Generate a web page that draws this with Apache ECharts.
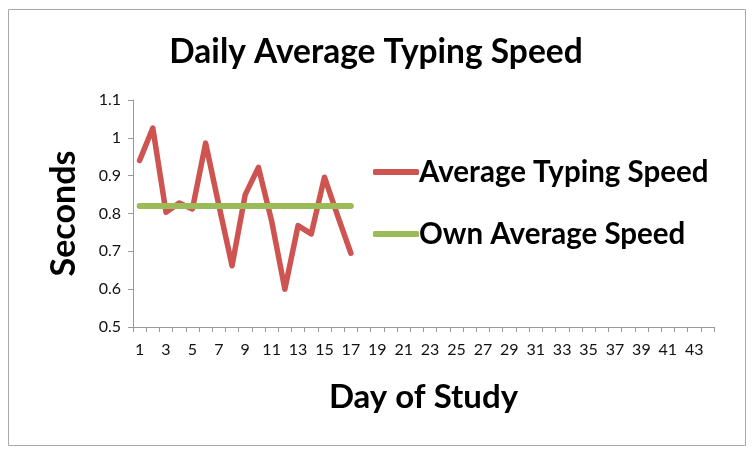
<!DOCTYPE html>
<html>
<head>
<meta charset="utf-8">
<script src="https://cdn.jsdelivr.net/npm/echarts@6/dist/echarts.min.js"></script>
<style>html,body{margin:0;padding:0;background:#fff;}#c{width:752px;height:452px;}</style>
</head>
<body>
<div id="c"></div>
<script>
const days = Array.from({length: 44}, (_, i) => String(i + 1));
const averageTypingSpeed = [0.94, 1.026, 0.803, 0.828, 0.812, 0.986, 0.822, 0.662, 0.85, 0.922, 0.78, 0.60, 0.768, 0.746, 0.896, 0.794, 0.695];
const ownAverageSpeed = [0.82, 0.82, 0.82, 0.82, 0.82, 0.82, 0.82, 0.82, 0.82, 0.82, 0.82, 0.82, 0.82, 0.82, 0.82, 0.82, 0.82];
const seriesNames = ['Average Typing Speed', 'Own Average Speed'];

const FONT = 'Lato';
const chart = echarts.init(document.getElementById('c'));
chart.setOption({
  animation: false,
  backgroundColor: '#fff',
  title: {
    text: 'Daily Average Typing Speed',
    left: 'center', top: 30,
    textStyle: { fontFamily: FONT, fontWeight: 'bold', fontSize: 33.5, color: '#000' }
  },
  graphic: [{
    type: 'rect', shape: { x: 8.5, y: 9.5, width: 737, height: 436 },
    style: { fill: 'none', stroke: '#aaa', lineWidth: 1 }, silent: true
  }],
  legend: {
    orient: 'vertical', left: 368, top: 152,
    itemWidth: 46, itemHeight: 6, itemGap: 32,
    icon: 'roundRect',
    textStyle: { fontFamily: FONT, fontWeight: 'bold', fontSize: 29.5, color: '#000', padding: [0, 0, 0, -5] },
    data: seriesNames
  },
  grid: { left: 133, right: 38, top: 100, bottom: 125, containLabel: false },
  xAxis: {
    type: 'category', data: days, boundaryGap: true,
    name: 'Day of Study', nameLocation: 'middle', nameGap: 54,
    nameTextStyle: { fontFamily: FONT, fontWeight: 'bold', fontSize: 33, color: '#000' },
    axisLine: { lineStyle: { color: '#999', width: 1 } },
    axisTick: { show: true, interval: 0, length: 5, lineStyle: { color: '#999' } },
    axisLabel: { interval: 1, margin: 15, fontFamily: FONT, fontSize: 16, color: '#111' },
    splitLine: { show: false }
  },
  yAxis: {
    type: 'value', min: 0.5, max: 1.1, interval: 0.1,
    name: 'Seconds', nameLocation: 'middle', nameGap: 52, nameRotate: 90,
    nameTextStyle: { fontFamily: FONT, fontWeight: 'bold', fontSize: 34, color: '#000' },
    axisLine: { show: true, lineStyle: { color: '#999', width: 1 } },
    axisTick: { show: true, length: 5, lineStyle: { color: '#999' } },
    axisLabel: { margin: 12, fontFamily: FONT, fontSize: 16, color: '#111',
      formatter: v => String(Math.round(v * 10) / 10) },
    splitLine: { show: false }
  },
  series: [
    { name: seriesNames[0], type: 'line', data: averageTypingSpeed, showSymbol: false, symbol: 'none',
      color: '#CD5450', lineStyle: { width: 5.5, color: '#CD5450', cap: 'round', join: 'round' } },
    { name: seriesNames[1], type: 'line', data: ownAverageSpeed, showSymbol: false, symbol: 'none',
      color: '#9BBB59', lineStyle: { width: 6, color: '#9BBB59', cap: 'round' } }
  ]
});
</script>
</body>
</html>
